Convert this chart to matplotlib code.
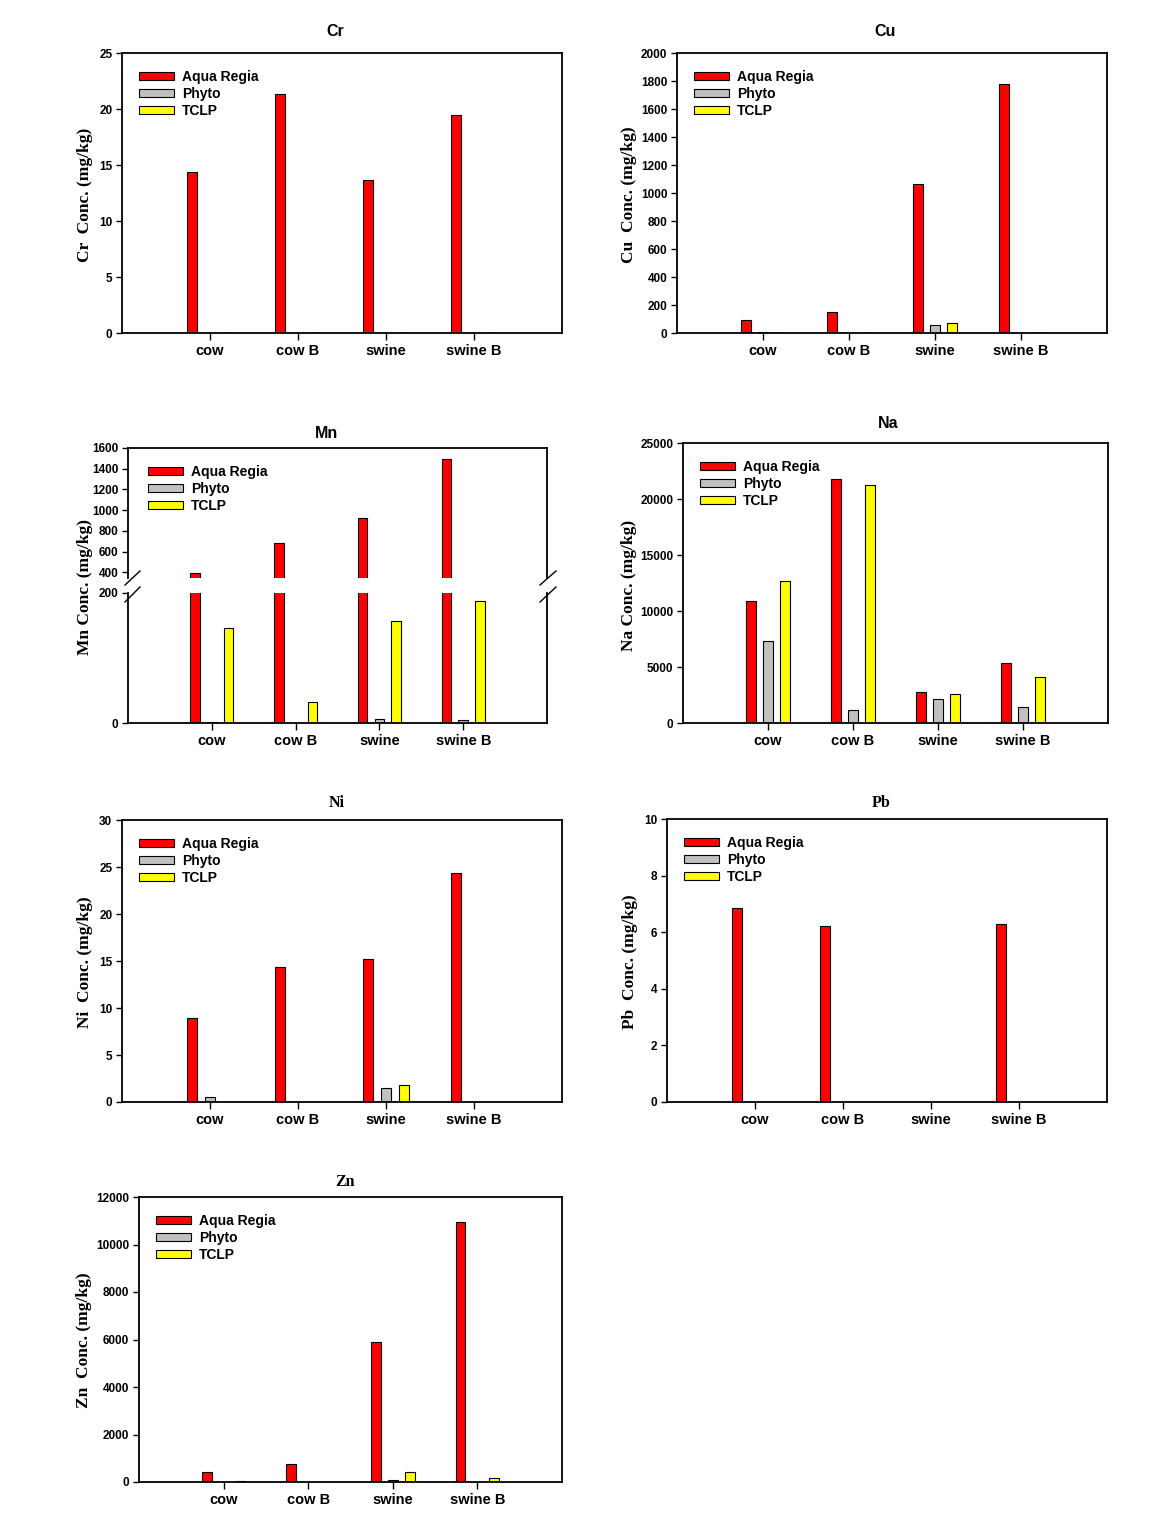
import numpy as np
import matplotlib
matplotlib.use("Agg")
import matplotlib.pyplot as plt
from matplotlib.lines import Line2D

plt.rcParams['font.family'] = ['Liberation Sans', 'DejaVu Sans']

# ---------------- data ----------------
categories = ["cow", "cow B", "swine", "swine B"]
series_names = ["Aqua Regia", "Phyto", "TCLP"]
series_colors = ["#FF0000", "#C0C0C0", "#FFFF00"]

cr_aqua = [14.4, 21.3, 13.65, 19.5]
cr_phyto = [0, 0, 0, 0]
cr_tclp = [0, 0, 0, 0]

cu_aqua = [93, 150, 1062, 1776]
cu_phyto = [7, 0, 55, 0]
cu_tclp = [0, 0, 71, 0]

mn_aqua = [390, 681, 923, 1494]
mn_phyto = [2, 0, 6, 5]
mn_tclp = [146, 32, 157, 188]

na_aqua = [10860, 21790, 2770, 5320]
na_phyto = [7350, 1190, 2140, 1460]
na_tclp = [12710, 21250, 2590, 4110]

ni_aqua = [8.94, 14.36, 15.25, 24.36]
ni_phyto = [0.54, 0, 1.5, 0]
ni_tclp = [0, 0, 1.82, 0]

pb_aqua = [6.86, 6.23, 0, 6.29]
pb_phyto = [0, 0, 0, 0]
pb_tclp = [0, 0, 0, 0]

zn_aqua = [410, 750, 5900, 10940]
zn_phyto = [0, 0, 70, 0]
zn_tclp = [40, 0, 410, 155]

cr_ticks = [0, 5, 10, 15, 20, 25]
cu_ticks = list(range(0, 2001, 200))
mn_upper_ticks = [400, 600, 800, 1000, 1200, 1400, 1600]
mn_lower_ticks = [0, 200]
na_ticks = [0, 5000, 10000, 15000, 20000, 25000]
ni_ticks = [0, 5, 10, 15, 20, 25, 30]
pb_ticks = [0, 2, 4, 6, 8, 10]
zn_ticks = [0, 2000, 4000, 6000, 8000, 10000, 12000]

# ---------------- figure ----------------
W, H = 1160, 1529
fig = plt.figure(figsize=(W / 100, H / 100), dpi=100)

SERIF = ['Liberation Serif', 'DejaVu Serif']
SANS = ['Liberation Sans', 'DejaVu Sans']


def add_ax(l, r, t, b):
    return fig.add_axes([l / W, 1 - b / H, (r - l) / W, (b - t) / H])


def style(ax, xlabels=True):
    for s in ax.spines.values():
        s.set_linewidth(1.3)
    ax.tick_params(axis='y', direction='out', length=4, width=1, labelsize=8.5, pad=3)
    ax.tick_params(axis='x', direction='out', length=5, width=1, labelsize=10.5, pad=3)
    for lab in ax.get_yticklabels():
        lab.set_fontweight('bold')
        lab.set_family(SANS)
    for lab in ax.get_xticklabels():
        lab.set_fontweight('bold')
        lab.set_family(SANS)


def draw_bars(ax, vals_list):
    x = np.arange(len(categories))
    offs = [-0.2, 0.0, 0.2]
    bars = []
    for v, o, c, n in zip(vals_list, offs, series_colors, series_names):
        b = ax.bar(x + o, v, width=0.115, color=c, edgecolor='black',
                   linewidth=0.8, label=n, zorder=2)
        bars.append(b)
    ax.set_xlim(-1, 4)
    ax.set_xticks(x)
    ax.set_xticklabels(categories)
    return bars


def add_legend(ax, wpx, hpx, dx=17, dy=17):
    ax.legend(loc='upper left', bbox_to_anchor=(dx / wpx, 1 - dy / hpx),
              frameon=False, borderpad=0, borderaxespad=0,
              handlelength=2.5, handleheight=0.55, handletextpad=0.6,
              labelspacing=0.22, prop={'family': SANS, 'weight': 'bold', 'size': 10})


def title_text(x, y, s, serif=False):
    fig.text(x / W, 1 - y / H, s, ha='center', va='center', fontsize=11.5,
             fontweight='bold', family=SERIF if serif else SANS)


def ylabel_text(x, y, s):
    fig.text(x / W, 1 - y / H, s, ha='center', va='center', rotation=90,
             fontsize=12.5, fontweight='bold', family=SERIF)


def simple_panel(l, r, t, b, data, ticks, title, tpos, serif_title, ylab, ypos):
    ax = add_ax(l, r, t, b)
    draw_bars(ax, data)
    ax.set_ylim(ticks[0], ticks[-1])
    ax.set_yticks(ticks)
    style(ax)
    add_legend(ax, r - l, b - t)
    title_text(tpos[0], tpos[1], title, serif_title)
    ylabel_text(ypos[0], ypos[1], ylab)
    return ax


# Cr
simple_panel(122, 562, 53, 333, [cr_aqua, cr_phyto, cr_tclp], cr_ticks,
             "Cr", (335, 32), False, "Cr  Conc. (mg/kg)", (85, 195))
# Cu
simple_panel(677, 1107, 53, 333, [cu_aqua, cu_phyto, cu_tclp], cu_ticks,
             "Cu", (885, 32), False, "Cu  Conc. (mg/kg)", (629, 195))
# Na
simple_panel(683, 1108, 443, 723, [na_aqua, na_phyto, na_tclp], na_ticks,
             "Na", (888, 423), False, "Na Conc. (mg/kg)", (629, 585))
# Ni
simple_panel(122, 562, 820, 1102, [ni_aqua, ni_phyto, ni_tclp], ni_ticks,
             "Ni", (337, 803), True, "Ni  Conc. (mg/kg)", (85, 962))
# Pb
simple_panel(667, 1107, 819, 1102, [pb_aqua, pb_phyto, pb_tclp], pb_ticks,
             "Pb", (881, 803), True, "Pb  Conc. (mg/kg)", (630, 962))
# Zn
simple_panel(139, 562, 1197, 1482, [zn_aqua, zn_phyto, zn_tclp], zn_ticks,
             "Zn", (345, 1182), True, "Zn  Conc. (mg/kg)", (84, 1340))

# Mn (broken axis)
mn_l, mn_r = 128, 547
ax_up = add_ax(mn_l, mn_r, 448, 578)
ax_lo = add_ax(mn_l, mn_r, 593, 723)
mn_data = [mn_aqua, mn_phyto, mn_tclp]
draw_bars(ax_up, mn_data)
draw_bars(ax_lo, mn_data)
ax_up.set_ylim(345, 1600)
ax_up.set_yticks(mn_upper_ticks)
ax_lo.set_ylim(0, 200)
ax_lo.set_yticks(mn_lower_ticks)
ax_up.spines['bottom'].set_visible(False)
ax_lo.spines['top'].set_visible(False)
style(ax_up)
style(ax_lo)
ax_up.tick_params(axis='x', bottom=False, labelbottom=False)
add_legend(ax_up, mn_r - mn_l, 130, dx=20, dy=17)
title_text(326, 433, "Mn")
ylabel_text(85, 587, "Mn Conc. (mg/kg)")

for (x1, y1, x2, y2) in [(125, 585, 140, 571), (125, 602, 140, 587),
                         (540, 585, 556, 571), (540, 602, 556, 587)]:
    fig.add_artist(Line2D([x1 / W, x2 / W], [1 - y1 / H, 1 - y2 / H],
                          transform=fig.transFigure, color='black', lw=1))

fig.savefig("out.png", dpi=100)
